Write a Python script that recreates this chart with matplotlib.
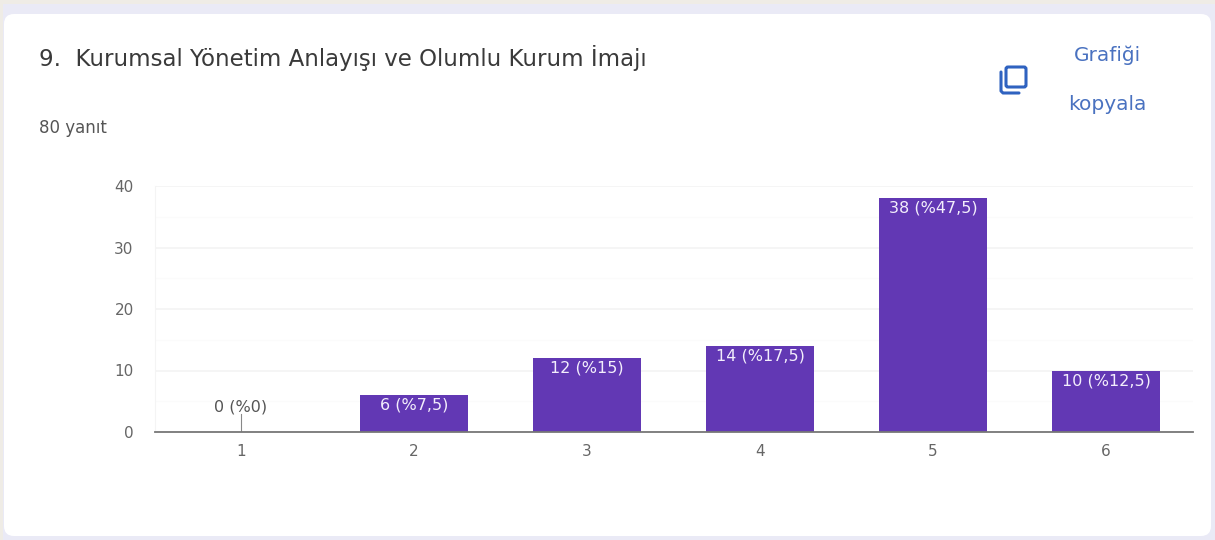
import matplotlib
matplotlib.use('Agg')
import matplotlib.pyplot as plt
from matplotlib.patches import FancyBboxPatch, Rectangle

plt.rcParams['font.family'] = ['DejaVu Sans']

categories = [1, 2, 3, 4, 5, 6]
counts = [0, 6, 12, 14, 38, 10]
labels = ['0 (%0)', '6 (%7,5)', '12 (%15)', '14 (%17,5)', '38 (%47,5)', '10 (%12,5)']
yticks = [0, 10, 20, 30, 40]
minor_yticks = [5, 15, 25, 35]

W, H = 1215, 540
purple = '#6238b4'
blue = '#4a72c0'

fig = plt.figure(figsize=(W / 100, H / 100), dpi=100, facecolor='#eaeaf6')

# page edge and white card, in pixel coordinates
bg = fig.add_axes([0, 0, 1, 1])
bg.set_xlim(0, W)
bg.set_ylim(H, 0)
bg.axis('off')
bg.add_patch(Rectangle((0, 0), W, 4, fc='#efece6', ec='none'))
bg.add_patch(Rectangle((0, 0), 3, H, fc='#efece6', ec='none'))
bg.add_patch(FancyBboxPatch((4, 14), W - 8, 522, boxstyle='round,pad=0,rounding_size=10',
                            fc='white', ec='none'))

bg.text(39, 58, '9.  Kurumsal Yönetim Anlayışı ve Olumlu Kurum İmajı', fontsize=16.5,
        color='#3a3a3a', va='center', ha='left')
bg.text(39, 128, '80 yanıt', fontsize=12, color='#555555', va='center', ha='left')
bg.text(1107, 55, 'Grafiği', fontsize=14.5, color=blue, va='center', ha='center')
bg.text(1107, 105, 'kopyala', fontsize=14.5, color=blue, va='center', ha='center')

# copy icon
bg.add_patch(FancyBboxPatch((1006, 67), 20, 20, boxstyle='round,pad=0,rounding_size=2',
                            fc='none', ec='#2f62c0', lw=2.2))
bg.plot([1001, 1001, 1003, 1019], [72, 91, 93, 93], color='#2f62c0', lw=2.2, solid_capstyle='round')

ax = fig.add_axes([154.5 / W, 1 - 432 / H, (1192.5 - 154.5) / W, (432 - 186) / H])
ax.patch.set_alpha(0)
ax.bar(categories, counts, width=0.62, color=purple, zorder=3)
ax.set_xlim(0.5, 6.5)
ax.set_ylim(0, 40)
ax.set_xticks(categories)
ax.set_yticks(yticks)
ax.set_yticks(minor_yticks, minor=True)
ax.grid(True, axis='y', which='major', color='#f4f4f4', lw=1.2, zorder=0)
ax.grid(True, axis='y', which='minor', color='#fbfbfb', lw=1, zorder=0)
ax.tick_params(axis='both', which='both', length=0)
ax.tick_params(axis='x', labelsize=11, labelcolor='#666666', pad=9)
ax.tick_params(axis='y', labelsize=11, labelcolor='#666666', pad=15)
for s in ['top', 'right']:
    ax.spines[s].set_visible(False)
ax.spines['left'].set_color('#f4f4f4')
ax.spines['bottom'].set_color('#777777')
ax.spines['bottom'].set_linewidth(1.3)
ax.spines['bottom'].set_zorder(4)

for x, c, lab in zip(categories, counts, labels):
    if c == 0:
        # zero bar: label sits above a small leader line
        ax.plot([x, x], [0, 3], color='#888888', lw=0.8, zorder=3)
        ax.annotate(lab, (x, 0), xytext=(0, 25), textcoords='offset pixels', ha='center',
                    va='center', fontsize=11.5, color='#555555')
    else:
        ax.annotate(lab, (x, c), xytext=(0, -10), textcoords='offset pixels', ha='center',
                    va='center', fontsize=11.5, color='#f3eefc', zorder=5)

fig.savefig('out.png', dpi=100, facecolor=fig.get_facecolor())
